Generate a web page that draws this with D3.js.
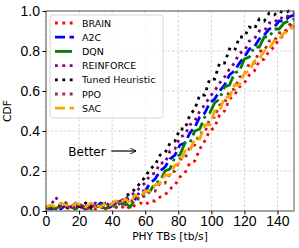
<!DOCTYPE html>
<html>
<head>
<meta charset="utf-8">
<script src="https://cdn.jsdelivr.net/npm/d3@7"></script>
<style>
  body { margin: 0; background: #fff; }
  svg { display: block; font-family: "DejaVu Sans", sans-serif; }
  .tick text { font-size: 14px; fill: #000; }
  .grid line { stroke: #c8c8c8; stroke-dasharray: 2.5,2; stroke-width: 0.8; }
</style>
</head>
<body>
<svg id="chart" width="299" height="248"></svg>
<script>
// x grid of the sampled CDFs (PHY TBs, tb/s)
var xs = d3.range(0, 151, 3);

var brain = [0.01,0.02,0.01,0.02,0.01,0.02,0.01,0.02,0.01,0.02,0.01,0.02,0.01,0.02,0.02,0.01,
  0.03,0.01,0.03,0.04,0.03,0.05,0.05,0.07,0.08,0.11,0.13,0.17,0.19,0.24,0.25,0.31,
  0.35,0.40,0.42,0.48,0.50,0.56,0.58,0.62,0.64,0.68,0.70,0.75,0.76,0.80,0.82,0.86,0.88,0.92,0.95];
var a2c = [0.02,0.01,0.02,0.01,0.03,0.02,0.04,0.02,0.01,0.03,0.02,0.04,0.03,0.02,0.04,0.03,
  0.05,0.07,0.06,0.10,0.10,0.14,0.16,0.20,0.22,0.26,0.28,0.33,0.34,0.39,0.42,0.47,0.49,0.54,0.56,0.60,
  0.63,0.68,0.70,0.74,0.77,0.81,0.82,0.86,0.88,0.91,0.92,0.95,0.95,0.97,0.98];
var dqn = [0.01,0.02,0.01,0.03,0.04,0.02,0.01,0.03,0.02,0.01,0.02,0.03,0.01,0.03,0.02,0.03,
  0.04,0.02,0.06,0.06,0.10,0.10,0.14,0.15,0.20,0.21,0.27,0.28,0.34,0.34,0.40,0.41,0.47,0.49,0.54,0.56,
  0.62,0.63,0.69,0.70,0.76,0.77,0.82,0.82,0.87,0.87,0.91,0.91,0.94,0.95,0.96];
var reinforce = [0.02,0.03,0.07,0.02,0.04,0.02,0.03,0.01,0.03,0.02,0.04,0.03,0.02,0.05,0.04,0.05,
  0.06,0.08,0.09,0.12,0.14,0.18,0.19,0.24,0.24,0.30,0.31,0.37,0.38,0.43,0.45,0.50,0.53,0.57,0.60,0.64,
  0.67,0.71,0.74,0.79,0.80,0.85,0.86,0.90,0.90,0.94,0.94,0.97,0.96,0.98,0.99];
var tuned = [0.01,0.02,0.01,0.03,0.02,0.01,0.03,0.02,0.04,0.02,0.03,0.02,0.04,0.03,0.05,0.04,
  0.07,0.09,0.11,0.14,0.17,0.21,0.23,0.28,0.29,0.34,0.35,0.41,0.41,0.48,0.51,0.58,0.58,0.66,0.66,0.74,
  0.74,0.81,0.80,0.87,0.87,0.92,0.91,0.96,0.95,0.99,0.98,1.0,0.99,1.0,1.0];
var ppo = [0.01,0.02,0.01,0.02,0.03,0.01,0.02,0.03,0.01,0.02,0.03,0.02,0.01,0.03,0.02,0.04,
  0.03,0.05,0.05,0.08,0.07,0.10,0.10,0.14,0.14,0.19,0.20,0.26,0.26,0.32,0.33,0.39,0.39,0.46,0.47,0.53,
  0.54,0.60,0.61,0.67,0.68,0.74,0.74,0.80,0.80,0.85,0.85,0.89,0.89,0.93,0.94];
var sac = [0.02,0.03,0.02,0.04,0.03,0.02,0.04,0.03,0.02,0.04,0.03,0.02,0.04,0.03,0.05,0.04,
  0.06,0.04,0.08,0.07,0.10,0.10,0.13,0.14,0.18,0.18,0.23,0.24,0.30,0.30,0.36,0.36,0.43,0.43,0.50,0.50,
  0.57,0.57,0.63,0.63,0.69,0.70,0.75,0.76,0.80,0.81,0.85,0.86,0.89,0.90,0.93];

var xTicks = [0, 20, 40, 60, 80, 100, 120, 140];
var yTicks = [0, 0.2, 0.4, 0.6, 0.8, 1.0];

var series = [
  {name: "BRAIN", values: brain, color: "red", dash: "2.8,4.6"},
  {name: "A2C", values: a2c, color: "blue", dash: "10,4.5"},
  {name: "DQN", values: dqn, color: "green", dash: "17,4.5,2.8,4.5"},
  {name: "REINFORCE", values: reinforce, color: "purple", dash: "2.8,4.6"},
  {name: "Tuned Heuristic", values: tuned, color: "black", dash: "2.8,4.6"},
  {name: "PPO", values: ppo, color: "brown", dash: "2.8,4.6"},
  {name: "SAC", values: sac, color: "orange", dash: "10,4.5"}
];

var margin = {top: 11, right: 5, bottom: 37, left: 46},
  width = 299 - margin.left - margin.right,
  height = 248 - margin.top - margin.bottom;

var svg = d3.select("#chart"),
  g = svg.append("g").attr("transform", "translate(" + margin.left + "," + margin.top + ")");

var x = d3.scaleLinear().domain([0, 150]).range([0, width]);
var y = d3.scaleLinear().domain([0, 1]).range([height, 0]);

// grid
g.append("g").attr("class", "grid")
  .selectAll("line").data(xTicks).enter().append("line")
  .attr("x1", function(d) { return x(d); }).attr("x2", function(d) { return x(d); })
  .attr("y1", 0).attr("y2", height);
g.append("g").attr("class", "grid")
  .selectAll("line").data(yTicks).enter().append("line")
  .attr("y1", function(d) { return y(d); }).attr("y2", function(d) { return y(d); })
  .attr("x1", 0).attr("x2", width);

var line = d3.line()
  .x(function(d, i) { return x(xs[i]); })
  .y(function(d) { return y(d); });

svg.append("defs").append("clipPath").attr("id", "clip")
  .append("rect").attr("x", -2).attr("y", -2).attr("width", width + 4).attr("height", height + 2);

g.append("g").attr("clip-path", "url(#clip)")
  .selectAll("path").data(series).enter().append("path")
  .attr("d", function(d) { return line(d.values); })
  .attr("fill", "none")
  .attr("stroke", function(d) { return d.color; })
  .attr("stroke-width", 2.8)
  .attr("stroke-dasharray", function(d) { return d.dash; });

// frame
g.append("rect").attr("width", width).attr("height", height)
  .attr("fill", "none").attr("stroke", "#555").attr("stroke-width", 1);

g.append("g")
  .attr("transform", "translate(0," + height + ")")
  .call(d3.axisBottom(x).tickValues(xTicks).tickSize(3.5).tickPadding(2).tickFormat(d3.format("d")))
  .call(function(a) { a.select(".domain").remove(); });

g.append("g")
  .call(d3.axisLeft(y).tickValues(yTicks).tickSize(3.5).tickPadding(2.5).tickFormat(d3.format(".1f")))
  .call(function(a) { a.select(".domain").remove(); });

g.append("text")
  .attr("x", width / 2).attr("y", height + 29)
  .attr("text-anchor", "middle").style("font-size", "10.7px")
  .text("PHY TBs [tb/s]");

g.append("text")
  .attr("transform", "rotate(-90)")
  .attr("x", -height / 2).attr("y", -35)
  .attr("text-anchor", "middle").style("font-size", "10.7px")
  .text("CDF");

// annotation
svg.append("defs").append("marker")
  .attr("id", "arrow").attr("viewBox", "0 0 10 10")
  .attr("refX", 10).attr("refY", 5)
  .attr("markerWidth", 6).attr("markerHeight", 6)
  .attr("markerUnits", "userSpaceOnUse")
  .attr("orient", "auto")
  .append("path").attr("d", "M0,0 L10,5 L0,10").attr("fill", "none").attr("stroke", "#000").attr("stroke-width", 1.5);

g.append("text")
  .attr("x", x(13.5)).attr("y", y(0.3) + 4.5)
  .style("font-size", "12px")
  .text("Better");
g.append("line")
  .attr("x1", x(39.5)).attr("x2", x(54.5))
  .attr("y1", y(0.3)).attr("y2", y(0.3))
  .attr("stroke", "#000").attr("stroke-width", 1.2)
  .attr("marker-end", "url(#arrow)");

// legend
var legend = g.append("g").attr("transform", "translate(4,4)");
legend.append("rect")
  .attr("width", 113).attr("height", 103)
  .attr("rx", 2.5)
  .attr("fill", "#fff").attr("fill-opacity", 0.8)
  .attr("stroke", "#ccc").attr("stroke-width", 0.8);

var item = legend.selectAll("g.item").data(series).enter().append("g")
  .attr("class", "item")
  .attr("transform", function(d, i) { return "translate(0," + (8 + i * 14.2) + ")"; });
item.append("line")
  .attr("x1", 5).attr("x2", 24).attr("y1", 0).attr("y2", 0)
  .attr("stroke", function(d) { return d.color; })
  .attr("stroke-width", 2.8)
  .attr("stroke-dasharray", function(d) { return d.dash; });
item.append("text")
  .attr("x", 32).attr("y", 3.5)
  .style("font-size", "9.5px")
  .text(function(d) { return d.name; });
</script>
</body>
</html>
